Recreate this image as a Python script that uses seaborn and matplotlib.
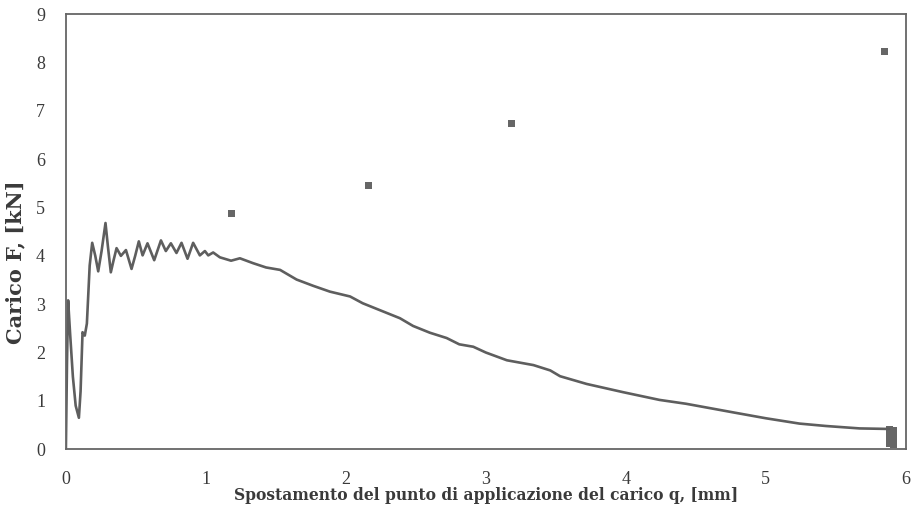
import numpy as np
import pandas as pd
import seaborn as sns
import matplotlib.pyplot as plt

# Load-displacement curve
q_curve = [0, 0.008, 0.016, 0.03, 0.05, 0.07, 0.093, 0.105, 0.119, 0.135, 0.15, 0.17,
           0.188, 0.21, 0.231, 0.255, 0.283, 0.30, 0.321, 0.34, 0.362, 0.393, 0.429,
           0.469, 0.495, 0.521, 0.548, 0.583, 0.631, 0.679, 0.714, 0.75, 0.79, 0.826,
           0.869, 0.909, 0.957, 0.993, 1.017, 1.052, 1.1, 1.18, 1.243, 1.336, 1.43,
           1.53, 1.648, 1.767, 1.886, 2.03, 2.12, 2.24, 2.386, 2.48, 2.6, 2.72, 2.81,
           2.91, 3.0, 3.15, 3.34, 3.46, 3.53, 3.72, 3.98, 4.24, 4.43, 4.6, 4.77, 5.0,
           5.24, 5.43, 5.67, 5.86, 5.88]
F_curve = [0, 1.8, 3.08, 2.4, 1.5, 0.9, 0.65, 1.2, 2.42, 2.35, 2.6, 3.8,
           4.27, 4.0, 3.68, 4.1, 4.68, 4.2, 3.66, 3.9, 4.16, 4.0, 4.12,
           3.73, 4.0, 4.30, 4.01, 4.26, 3.91, 4.32, 4.10, 4.26, 4.06, 4.27,
           3.94, 4.27, 4.01, 4.10, 4.01, 4.07, 3.97, 3.9, 3.95, 3.85, 3.76,
           3.71, 3.51, 3.38, 3.26, 3.16, 3.02, 2.88, 2.71, 2.55, 2.41, 2.30, 2.17,
           2.12, 2.0, 1.84, 1.74, 1.63, 1.51, 1.35, 1.18, 1.02, 0.94, 0.85, 0.76, 0.64,
           0.53, 0.48, 0.43, 0.42, 0.42]

# Isolated square points (last ones pile up at the end of the curve)
q_points = [1.18, 2.16, 3.18, 5.85, 5.88, 5.88, 5.88, 5.88, 5.91, 5.91, 5.91, 5.91]
F_points = [4.88, 5.46, 6.74, 8.22, 0.40, 0.30, 0.20, 0.12, 0.38, 0.28, 0.18, 0.10]

x_ticks = [0, 1, 2, 3, 4, 5, 6]
y_ticks = [0, 1, 2, 3, 4, 5, 6, 7, 8, 9]

df_curve = pd.DataFrame({'q': q_curve, 'F': F_curve})
df_points = pd.DataFrame({'q': q_points, 'F': F_points})

sns.set_style('white')
plt.rcParams['font.family'] = ['Liberation Serif', 'DejaVu Serif']

fig = plt.figure(figsize=(9.15, 5.26), dpi=100)
ax = fig.add_axes([0.072, 0.146, 0.918, 0.827])

sns.lineplot(data=df_curve, x='q', y='F', sort=False, color='#5e5e5e',
             linewidth=1.9, ax=ax)
sns.scatterplot(data=df_points, x='q', y='F', marker='s', s=26, color='#666666',
                edgecolor='none', ax=ax)

ax.set_xlim(0, 6)
ax.set_ylim(0, 9)
ax.set_xticks(x_ticks)
ax.set_yticks(y_ticks)
ax.tick_params(direction='inout', length=8, width=1, color='#666666',
               labelsize=13, labelcolor='#3a3a3a')
ax.tick_params(axis='y', pad=11)
ax.tick_params(axis='x', pad=12)
for side in ax.spines.values():
    side.set_color('#666666')
    side.set_linewidth(1.3)

ax.set_xlabel('Spostamento del punto di applicazione del carico q, [mm]',
              fontsize=11.2, fontweight='bold', color='#3a3a3a', family='DejaVu Serif')
ax.set_ylabel('Carico F, [kN]', fontsize=15, fontweight='bold', color='#3a3a3a',
              family='DejaVu Serif')
ax.xaxis.set_label_coords(0.5, -0.088)
ax.yaxis.set_label_coords(-0.048, 0.43)

fig.savefig('out.png', dpi=100)
